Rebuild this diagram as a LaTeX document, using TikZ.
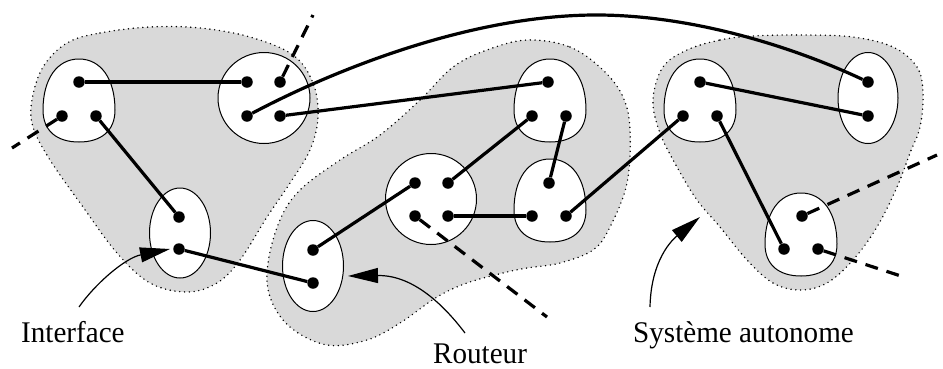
\documentclass[tikz,border=0pt]{standalone}
\usepackage{fontspec}
\setmainfont{Liberation Serif}[FakeStretch=0.97]
\usetikzlibrary{arrows.meta}
\definecolor{asgray}{RGB}{217,217,217}
\begin{document}
\begin{tikzpicture}[x=1pt,y=-1pt,
  asblob/.style={fill=asgray, draw=black, line width=1.6pt, dash pattern=on 0pt off 4.8pt, line cap=round},
  router/.style={fill=white, draw=black, line width=1pt},
  dot/.style={circle, fill=black, inner sep=0pt, minimum size=11.5pt},
  link/.style={line width=3.2pt},
  dlink/.style={line width=3.2pt, dash pattern=on 13pt off 9pt},
  annot/.style={line width=1.2pt, -{Triangle[length=30pt,width=15pt]}},
  lbl/.style={inner sep=0pt, font=\fontsize{30}{34}\selectfont},
  tear/.pic={\draw[router] (0,-42) .. controls (22,-42) and (36,-22) .. (36,9)
      .. controls (36,30) and (22,41) .. (0,41)
      .. controls (-22,41) and (-36,30) .. (-36,9)
      .. controls (-36,-22) and (-22,-42) .. (0,-42) -- cycle;}
]
\useasboundingbox (0,0) rectangle (943,368);

% autonomous systems
\draw[asblob] plot[smooth cycle, tension=0.6] coordinates {
  (67,43) (100,33) (150,27) (200,28) (250,37) (293,55) (313,83) (318,117)
  (310,150) (290,183) (267,217) (240,260) (217,283) (187,292) (150,283)
  (117,253) (83,207) (50,160) (33,127) (32,100) (43,67)};
\draw[asblob] plot[smooth cycle, tension=0.6] coordinates {
  (527,40) (570,47) (603,70) (623,97) (630,130) (627,183) (610,227) (593,250)
  (560,263) (527,268) (503,273) (467,283) (437,297) (400,323) (367,340)
  (327,345) (290,327) (270,297) (268,263) (280,220) (300,190) (340,160)
  (380,135) (420,100) (453,67) (487,50)};
\draw[asblob] plot[smooth cycle, tension=0.6] coordinates {
  (687,50) (720,40) (753,36) (803,35) (853,37) (893,47) (917,67) (923,93)
  (920,127) (910,153) (897,187) (877,227) (853,260) (827,283) (800,290)
  (773,283) (747,260) (720,227) (697,200) (677,167) (660,133) (653,100) (663,67)};

% routers
\pic at (79,101) {tear};
\draw[router] (264,98) ellipse [x radius=46, y radius=45.5];
\draw[router] (180,233) ellipse [x radius=30.5, y radius=45];
\pic at (550,101) {tear};
\draw[router] (431,199) ellipse [x radius=45.5, y radius=45.5];
\pic at (550,201) {tear};
\draw[router] (313,266) ellipse [x radius=30.5, y radius=45.5];
\pic at (700,101) {tear};
\draw[router] (868,98) ellipse [x radius=30, y radius=45.5];
\pic at (801,235) {tear};

% interfaces
\node[dot] (a1) at (79,82) {};
\node[dot] (a2) at (62,116) {};
\node[dot] (a3) at (96,116) {};
\node[dot] (b1) at (247,82) {};
\node[dot] (b2) at (280,82) {};
\node[dot] (b3) at (247,116) {};
\node[dot] (b4) at (280,116) {};
\node[dot] (c1) at (179,217) {};
\node[dot] (c2) at (179,249) {};
\node[dot] (d1) at (548,82) {};
\node[dot] (d2) at (532,116) {};
\node[dot] (d3) at (566,116) {};
\node[dot] (e1) at (415,183) {};
\node[dot] (e2) at (448,183) {};
\node[dot] (e3) at (415,216) {};
\node[dot] (e4) at (448,216) {};
\node[dot] (f1) at (549,183) {};
\node[dot] (f2) at (532,216) {};
\node[dot] (f3) at (566,216) {};
\node[dot] (g1) at (313,250) {};
\node[dot] (g2) at (313,283) {};
\node[dot] (h1) at (700,82) {};
\node[dot] (h2) at (683,116) {};
\node[dot] (h3) at (717,116) {};
\node[dot] (i1) at (868,82) {};
\node[dot] (i2) at (868,116) {};
\node[dot] (j1) at (802,216) {};
\node[dot] (j2) at (784,249) {};
\node[dot] (j3) at (818,249) {};

% links
\draw[link] (a1) -- (b1);
\draw[link] (a3) -- (c1);
\draw[link] (c2) -- (g2);
\draw[link] (b4) -- (d1);
\draw[link] (b3) .. controls (330,72) and (470,14) .. (600,15)
               .. controls (700,16) and (800,50) .. (i1);
\draw[link] (g1) -- (e1);
\draw[link] (e2) -- (d2);
\draw[link] (d3) -- (f1);
\draw[link] (e4) -- (f2);
\draw[link] (f3) -- (h2);
\draw[link] (h1) -- (i2);
\draw[link] (h3) -- (j2);

% links leaving the picture
\coordinate (xa) at (12,148);
\coordinate (xb) at (313,15);
\coordinate (xe) at (547,317);
\coordinate (xj1) at (937,155);
\coordinate (xj3) at (907,278);
\draw[dlink] (a2) -- (xa);
\draw[dlink] (b2) -- (xb);
\draw[dlink] (e3) -- (xe);
\draw[dlink] (j1) -- (xj1);
\draw[dlink] (j3) -- (xj3);

% labels
\node[lbl, anchor=base west] (intf) at (21,342) {Interface};
\node[lbl, anchor=base west] (rout) at (433,363) {Routeur};
\node[lbl, anchor=base west] (syst) at (633,342) {Système autonome};

\coordinate (intfS) at (79,307);
\coordinate (intfT) at (170,249);
\coordinate (routS) at (465,333);
\coordinate (routT) at (348,276);
\coordinate (systS) at (650,307);
\coordinate (systT) at (700,217);
\draw[annot] (intfS) .. controls (95,284) and (125,258) .. (intfT);
\draw[annot] (routS) .. controls (440,300) and (410,275) .. (routT);
\draw[annot] (systS) .. controls (651,260) and (672,240) .. (systT);
\end{tikzpicture}
\end{document}
